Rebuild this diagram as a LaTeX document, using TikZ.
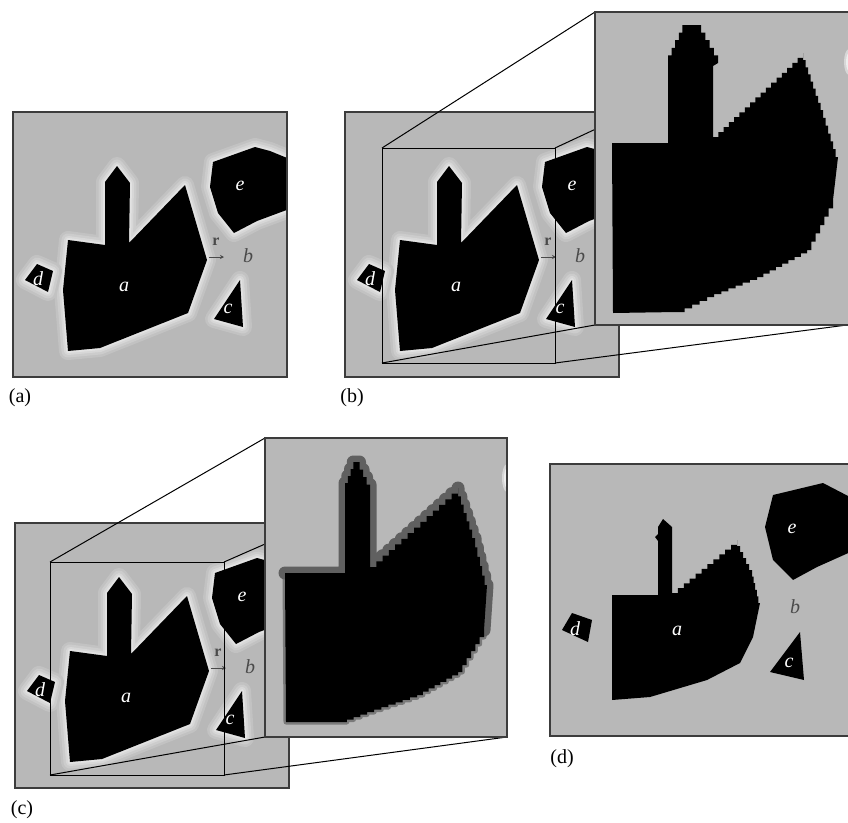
\documentclass[tikz,border=0pt]{standalone}
\usepackage{fontspec}
\setmainfont{Liberation Serif}
\usetikzlibrary{arrows.meta}
\definecolor{panelgray}{HTML}{B8B8B8}
\definecolor{haloA}{HTML}{C2C2C2}
\definecolor{haloB}{HTML}{CCCCCC}
\definecolor{haloC}{HTML}{D7D7D7}
\definecolor{haloD}{HTML}{E2E2E2}
\definecolor{framecol}{HTML}{3C3C3C}
\definecolor{bandgray}{HTML}{606060}
\definecolor{bletter}{HTML}{4A4A4A}
\newcommand\stairsH[3]{foreach \i in {1,...,#3}{ -- ++({(#1)/(#3)},0) -- ++(0,{(#2)/(#3)}) }}
\newcommand\stairsV[3]{foreach \i in {1,...,#3}{ -- ++(0,{(#2)/(#3)}) -- ++({(#1)/(#3)},0) }}
\newcommand\shpApath{(117,166) -- (130,183) -- (129,243) -- (185,185) -- (207,260) -- (188,313) -- (100,348) -- (68,351) -- (63,290) -- (68,240) -- (105,245) -- (105,182) -- cycle}
\newcommand\shpEpath{(213,162) -- (255,147) -- (270,151) -- (292,160) -- (292,208) -- (257,221) -- (234,233) -- (218,213) -- (210,187) -- cycle}
\newcommand\shpDpath{(25,280) -- (37,264) -- (53,271) -- (48,292) -- cycle}
\newcommand\shpCpath{(240,280) -- (243,327) -- (214,319) -- cycle}
\newcommand\sceneA[1]{%
  \fill[panelgray] (13,112) rectangle (287,377);
  \begin{scope}
    \clip (13,112) rectangle (287,377);
    \foreach \p in {\shpApath,\shpEpath,\shpDpath,\shpCpath}{
      \draw[haloA, line width=18, line join=round] \p;
      \draw[haloB, line width=13, line join=round] \p;
      \draw[haloC, line width=8, line join=round] \p;
      \draw[haloD, line width=4, line join=round] \p;
    }
    \fill[black] \shpApath;
    \fill[black] \shpEpath;
    \fill[black] \shpDpath;
    \fill[black] \shpCpath;
    \node[wlbl] (#1a) at (124,287) {a};
    \node[wlbl] (#1e) at (240,186) {e};
    \node[wlbl] (#1d) at (38,279) {d};
    \node[wlbl] (#1c) at (228,309) {c};
    \node[blbl] (#1b) at (248,256) {b};
    \node[rlbl] (#1r) at (216,242) {r};
    \coordinate (#1r1) at (209,257);
    \coordinate (#1r2) at (224,257);
    \draw[line width=1, -{Stealth[length=4pt,width=4pt]}, bletter] (#1r1) -- (#1r2);
  \end{scope}
  \draw[framecol, line width=1.4] (13,112) rectangle (287,377);
}
\tikzset{
  wlbl/.style={text=white, font=\fontsize{20}{20}\selectfont\itshape, inner sep=0pt},
  blbl/.style={text=bletter, font=\fontsize{20}{20}\selectfont\itshape, inner sep=0pt},
  rlbl/.style={text=bletter, font=\fontsize{16}{16}\selectfont\bfseries, inner sep=0pt},
  captxt/.style={font=\fontsize{20}{20}\selectfont, inner sep=0pt},
  zline/.style={black, line width=1},
  zframe/.style={framecol, line width=1.4}
}
\begin{document}
\begin{tikzpicture}[x=1pt,y=-1pt]
\clip (0,0) rectangle (848,822);
\fill[white] (0,0) rectangle (848,822);

% ---------- (a)
\sceneA{pa}
\node[captxt] (capa) at (20,398) {(a)};

% ---------- (b)
\begin{scope}[shift={(332,0)}]
  \sceneA{pb}
\end{scope}
\coordinate (bi1) at (382,148);
\coordinate (bi2) at (555,148);
\coordinate (bi3) at (555,363);
\coordinate (bi4) at (382,363);
\coordinate (bm1) at (595,12);
\coordinate (bm2) at (847,12);
\coordinate (bm3) at (847,325);
\coordinate (bm4) at (595,325);
\draw[zline] (bi1) rectangle (bi3);
\draw[zline] (bi1) -- (bm1);
\draw[zline] (bi2) -- (bm2);
\draw[zline] (bi4) -- (bm4);
\draw[zline] (bi3) -- (bm3);
\fill[panelgray] (595,12) rectangle (860,325);
\begin{scope}
  \clip (595,12) rectangle (860,325);
  \fill[black] (612,143) -- (668,143) -- (668,63) \stairsV{18}{-38}{5} -- (697,25) \stairsH{21}{38}{5}
    -- (713,66) -- (713,137) \stairsH{90}{-84}{17} \stairsV{20}{57}{8} \stairsV{15}{47}{6}
    -- (833,200) \stairsV{-26}{50}{6} \stairsV{-50}{27}{8} \stairsV{-50}{20}{7} \stairsV{-30}{15}{4}
    -- (613,313) -- cycle;
  \fill[haloC] (849,62) ellipse (5 and 13);
  \fill[haloD!60!white] (850,62) ellipse (4 and 10);
\end{scope}
\draw[zframe] (860,12) -- (595,12) -- (595,325) -- (860,325);
\node[captxt] (capb) at (352,398) {(b)};

% ---------- (c)
\begin{scope}[shift={(2,411)}]
  \sceneA{pc}
\end{scope}
\coordinate (ci1) at (50,562);
\coordinate (ci2) at (224,562);
\coordinate (ci3) at (224,775);
\coordinate (ci4) at (50,775);
\coordinate (cm1) at (265,438);
\coordinate (cm2) at (507,438);
\coordinate (cm3) at (507,737);
\coordinate (cm4) at (265,737);
\draw[zline] (ci1) rectangle (ci3);
\draw[zline] (ci1) -- (cm1);
\draw[zline] (ci2) -- (cm2);
\draw[zline] (ci4) -- (cm4);
\draw[zline] (ci3) -- (cm3);
\fill[panelgray] (cm1) rectangle (cm3);
\newcommand\shpCtop{(285,573) -- (345,573) -- (345,490) \stairsV{11}{-28}{4} \stairsH{14}{30}{4}
    -- (370,567) \stairsH{88}{-79}{14} \stairsV{17}{50}{6} \stairsV{12}{47}{5}
    -- (484,630)}
\newcommand\shpCmag{(285,573) -- (345,573) -- (345,490) \stairsV{11}{-28}{4} \stairsH{14}{30}{4}
    -- (370,567) \stairsH{88}{-79}{14} \stairsV{17}{50}{6} \stairsV{12}{47}{5}
    -- (484,630) \stairsV{-26}{42}{6} \stairsV{-41}{23}{7} \stairsV{-50}{17}{7} \stairsV{-27}{10}{4}
    -- (286,722) -- cycle}
\begin{scope}
  \clip (cm1) rectangle (cm3);
  \draw[bandgray!70!panelgray, line width=5, line join=round] \shpCmag;
  \draw[bandgray, line width=13, line join=round, line cap=round] \shpCtop;
  \fill[black] \shpCmag;
  \fill[haloC] (507,478) ellipse (5 and 14);
  \fill[haloD!60!white] (508,478) ellipse (4 and 11);
\end{scope}
\draw[zframe] (cm1) rectangle (cm3);
\node[captxt] (capc) at (22,810) {(c)};

% ---------- (d)
\fill[panelgray] (550,464) rectangle (860,736);
\begin{scope}
  \clip (550,464) rectangle (860,736);
  \fill[black] (612,595) -- (658,595) -- (658,541) -- (655,537) -- (658,534) -- (658,527) -- (663,519)
    -- (672,527) -- (672,593) \stairsH{65}{-53}{11} \stairsV{15}{30}{5} \stairsV{8}{33}{5}
    -- (753,637) -- (740,663) -- (707,680) -- (650,697) -- (612,700) -- cycle;
  \fill[black] (773,495) -- (823,483) -- (850,497) -- (855,550) -- (817,567) -- (793,580) -- (773,560) -- (765,527) -- cycle;
  \fill[black] (562,630) -- (572,613) -- (592,620) -- (588,642) -- cycle;
  \fill[black] (800,632) -- (804,680) -- (770,672) -- cycle;
  \node[wlbl] (pda) at (677,631) {a};
  \node[wlbl] (pde) at (792,529) {e};
  \node[wlbl] (pdd) at (575,629) {d};
  \node[wlbl] (pdc) at (789,663) {c};
  \node[blbl] (pdb) at (795,607) {b};
\end{scope}
\draw[zframe] (860,464) -- (550,464) -- (550,736) -- (860,736);
\node[captxt] (capd) at (562,759) {(d)};
\end{tikzpicture}
\end{document}
